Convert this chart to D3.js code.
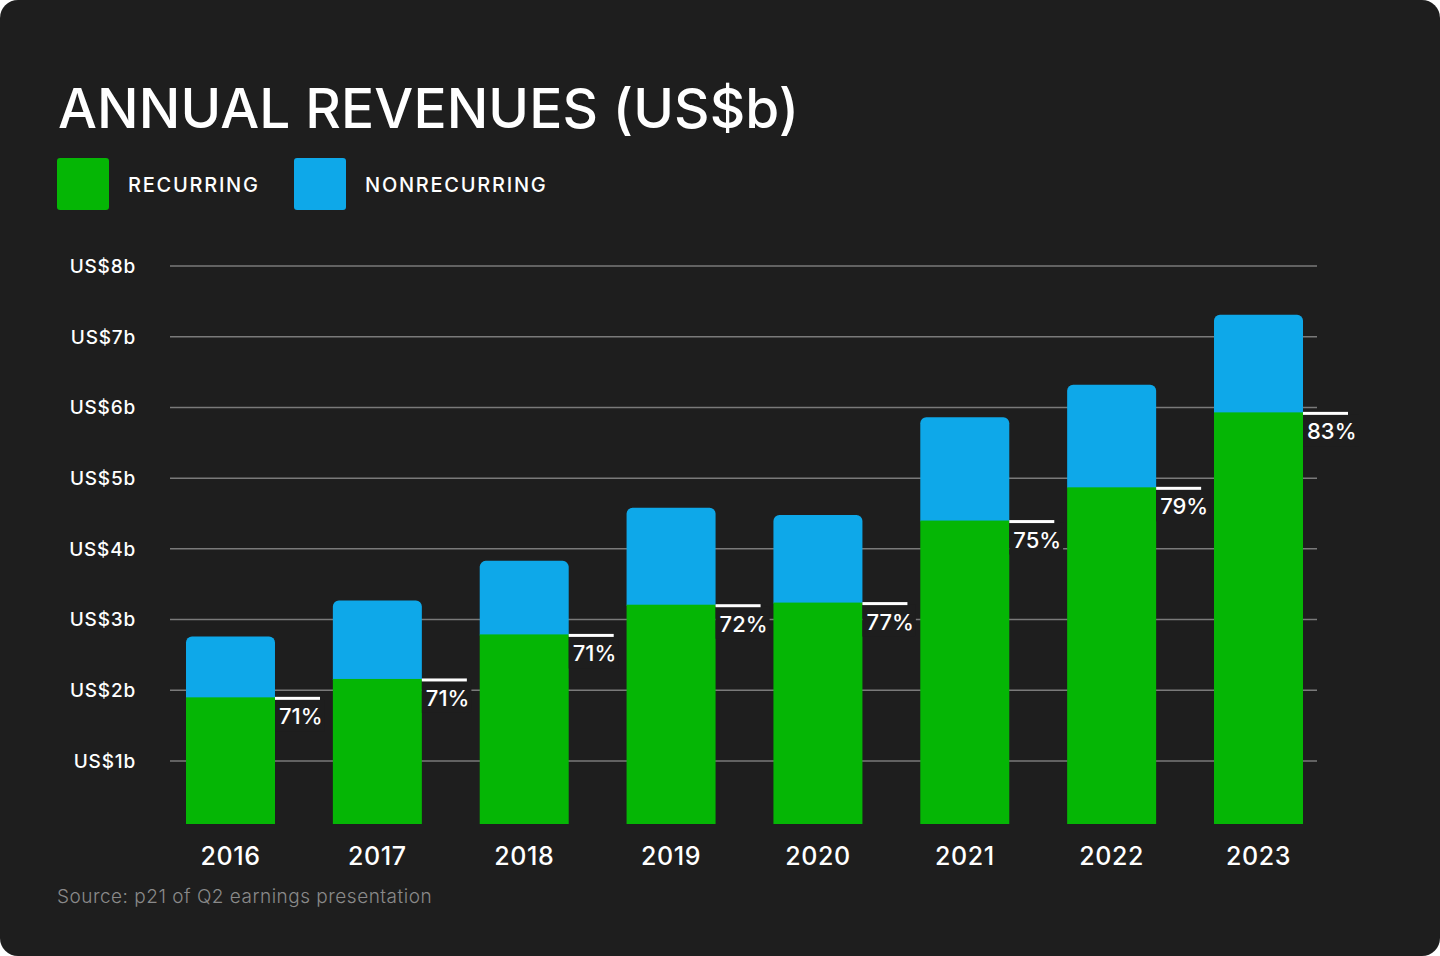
<!DOCTYPE html>
<html>
<head>
<meta charset="utf-8">
<script src="https://cdn.jsdelivr.net/npm/d3@7"></script>
<style>
  html, body { margin: 0; padding: 0; background: #ffffff; }
  svg { display: block; }
  text { font-family: Inter, "Noto Sans", sans-serif; }
</style>
</head>
<body>
<svg id="chart" width="1440" height="956"></svg>
<script>
const years = ["2016", "2017", "2018", "2019", "2020", "2021", "2022", "2023"];
const recurring = [1.90, 2.16, 2.79, 3.21, 3.24, 4.40, 4.87, 5.93];
const nonrecurring = [0.86, 1.11, 1.04, 1.37, 1.24, 1.46, 1.45, 1.38];
const recurringPct = ["71%", "71%", "71%", "72%", "77%", "75%", "79%", "83%"];
const yTicks = [1, 2, 3, 4, 5, 6, 7, 8];
const yTickLabels = ["US$1b", "US$2b", "US$3b", "US$4b", "US$5b", "US$6b", "US$7b", "US$8b"];
const seriesNames = ["RECURRING", "NONRECURRING"];
const seriesColors = ["#05b605", "#0ea8e9"];

const BG = "#1e1e1e";
const svg = d3.select("#chart");

// card background
svg.append("rect").attr("x", 0).attr("y", 0).attr("width", 1440).attr("height", 956)
  .attr("rx", 18).attr("fill", BG);

// title
svg.append("text").attr("x", 58).attr("y", 128)
  .attr("fill", "#ffffff").attr("font-size", 55).attr("font-weight", 500)
  .attr("letter-spacing", "0.1px")
  .text("ANNUAL REVENUES (US$b)");

// legend
const legendX = [57, 294];
seriesNames.forEach((name, i) => {
  svg.append("rect").attr("x", legendX[i]).attr("y", 158).attr("width", 52).attr("height", 52)
    .attr("rx", 3).attr("fill", seriesColors[i]);
  svg.append("text").attr("x", legendX[i] + 71).attr("y", 192)
    .attr("fill", "#ffffff").attr("font-size", 20).attr("font-weight", 500)
    .attr("letter-spacing", "1.75px")
    .text(name);
});

// scales
const x = d3.scaleBand().domain(years).range([186, 1303]).paddingInner(0.394).paddingOuter(0);
const y = d3.scaleLinear().domain([0, 8]).range([831.7, 266]);
const plotBottom = 824;

// gridlines + y labels
const grid = svg.append("g");
yTicks.forEach((t, i) => {
  grid.append("line").attr("x1", 170).attr("x2", 1317)
    .attr("y1", y(t)).attr("y2", y(t))
    .attr("stroke", "#7a7a7a").attr("stroke-width", 1.5);
  grid.append("text").attr("x", 136).attr("y", y(t)).attr("dy", "0.36em")
    .attr("text-anchor", "end").attr("fill", "#ffffff")
    .attr("font-size", 19).attr("font-weight", 500)
    .attr("letter-spacing", "0.8px")
    .text(yTickLabels[i]);
});

// clip for bar bottoms
svg.append("defs").append("clipPath").attr("id", "plotclip")
  .append("rect").attr("x", 0).attr("y", 0).attr("width", 1440).attr("height", plotBottom);

const bars = svg.append("g").attr("clip-path", "url(#plotclip)");
const bw = x.bandwidth();
const r = 6;

years.forEach((yr, i) => {
  const x0 = x(yr);
  const total = recurring[i] + nonrecurring[i];
  const yTop = y(total);
  const yMid = y(recurring[i]);
  const p = d3.path();
  p.moveTo(x0, yMid + 1);
  p.lineTo(x0, yTop + r);
  p.arcTo(x0, yTop, x0 + r, yTop, r);
  p.lineTo(x0 + bw - r, yTop);
  p.arcTo(x0 + bw, yTop, x0 + bw, yTop + r, r);
  p.lineTo(x0 + bw, yMid + 1);
  p.closePath();
  bars.append("path").attr("d", p.toString()).attr("fill", seriesColors[1]);
  bars.append("rect").attr("x", x0).attr("y", yMid).attr("width", bw)
    .attr("height", y(0) - yMid).attr("fill", seriesColors[0]);
});

// percentage markers
const pctG = svg.append("g");
years.forEach((yr, i) => {
  const x1 = x(yr) + bw;
  const yMid = y(recurring[i]);
  const t = pctG.append("text").attr("x", x1 + 4).attr("y", yMid + 27)
    .attr("fill", "#ffffff").attr("font-size", 22).attr("font-weight", 500)
    .text(recurringPct[i]);
  const bb = t.node().getBBox();
  pctG.insert("rect", "text").attr("x", x1).attr("y", yMid + 2)
    .attr("width", bb.x + bb.width - x1 + 2).attr("height", bb.y + bb.height - yMid)
    .attr("fill", BG);
  pctG.append("rect").attr("x", x1).attr("y", yMid - 0.5).attr("width", 45).attr("height", 3)
    .attr("fill", "#ffffff");
});

// year labels
years.forEach((yr) => {
  svg.append("text").attr("x", x(yr) + bw / 2).attr("y", 865)
    .attr("text-anchor", "middle").attr("fill", "#ffffff")
    .attr("font-size", 25).attr("font-weight", 500)
    .attr("letter-spacing", "0.6px")
    .text(yr);
});

// source
svg.append("text").attr("x", 57).attr("y", 903)
  .attr("fill", "#8a8a8a").attr("font-size", 19).attr("font-weight", 300)
  .attr("letter-spacing", "0.5px")
  .text("Source: p21 of Q2 earnings presentation");
</script>
</body>
</html>
